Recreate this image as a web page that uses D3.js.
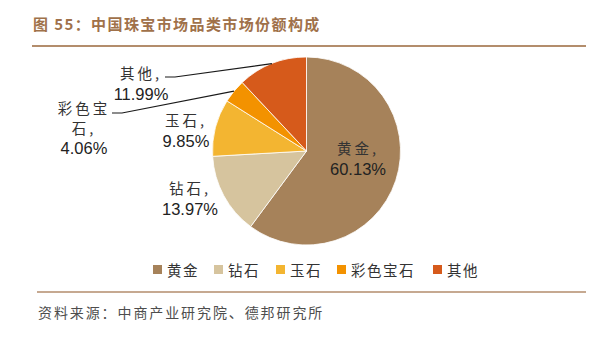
<!DOCTYPE html>
<html>
<head>
<meta charset="utf-8">
<script src="https://cdn.jsdelivr.net/npm/d3@7/dist/d3.min.js"></script>
<style>
  html, body { margin: 0; padding: 0; background: #fff; }
  svg { display: block; }
</style>
</head>
<body>
<svg id="chart" width="614" height="344"></svg>
<script>
// Market share of China's jewellery categories (%)
const categories = ["黄金", "钻石", "玉石", "彩色宝石", "其他"];
const shares = [60.13, 13.97, 9.85, 4.06, 11.99];
const colors = ["#a6825a", "#d6c49e", "#f3b531", "#f39200", "#d65a1b"];

const titleText = "图 55：中国珠宝市场品类市场份额构成";
const sourceText = "资料来源：中商产业研究院、德邦研究所";

const cjk = "'Noto Sans CJK SC', 'Noto Sans', sans-serif";
const latin = "'Liberation Sans', Arial, sans-serif";

const svg = d3.select("#chart");

// Title and rules
svg.append("text")
  .attr("x", 33).attr("y", 30)
  .attr("font-family", cjk).attr("font-size", 15).attr("font-weight", "bold")
  .attr("letter-spacing", 1.4)
  .attr("fill", "#a0714a")
  .text(titleText);

svg.append("line").attr("x1", 32).attr("x2", 586).attr("y1", 46).attr("y2", 46)
  .attr("stroke", "#b38d6c").attr("stroke-width", 2);
svg.append("line").attr("x1", 37).attr("x2", 586).attr("y1", 292).attr("y2", 292)
  .attr("stroke", "#b38d6c").attr("stroke-width", 1.5);

svg.append("text")
  .attr("x", 38).attr("y", 318)
  .attr("font-family", cjk).attr("font-size", 14).attr("letter-spacing", 1.9)
  .attr("fill", "#4d4d4d")
  .text(sourceText);

// Pie
const cx = 306.5, cy = 151, r = 94;
const pie = d3.pie().sort(null).value(d => d)(shares);
const arc = d3.arc().innerRadius(0).outerRadius(r);
const g = svg.append("g").attr("transform", `translate(${cx},${cy})`);

g.selectAll("path.slice").data(pie).enter().append("path")
  .attr("class", "slice")
  .attr("d", arc)
  .attr("fill", (d, i) => colors[i])
  .attr("stroke", "#fff").attr("stroke-width", 0.8);

// Data labels: category line(s), value line, centre x, first baseline
const labelSpec = [
  { lines: ["黄金,"], x: 358, y: 154 },
  { lines: ["钻石,"], x: 190, y: 194 },
  { lines: ["玉石,"], x: 186, y: 126 },
  { lines: ["彩色宝", "石,"], x: 84, y: 114, leader: [112, 113] },
  { lines: ["其他,"], x: 141, y: 79, leader: [165, 77] }
];

labelSpec.forEach((s, i) => {
  const t = svg.append("text").attr("text-anchor", "middle");
  let y = s.y;
  s.lines.forEach(l => {
    t.append("tspan").attr("x", s.x).attr("y", y)
      .attr("font-family", cjk).attr("font-size", 14.5).attr("letter-spacing", 3)
      .attr("fill", "#333").text(l);
    y += 19.5;
  });
  t.append("tspan").attr("x", s.x).attr("y", y + 1)
    .attr("font-family", latin).attr("font-size", 16.5)
    .attr("fill", "#222").text(shares[i].toFixed(2) + "%");

  if (s.leader) {
    const d = pie[i];
    const mid = (d.startAngle + d.endAngle) / 2;
    const px = cx + r * Math.sin(mid), py = cy - r * Math.cos(mid);
    svg.append("polyline")
      .attr("points", [[s.leader[0], s.leader[1]], [s.leader[0] + 10, s.leader[1]], [px, py]].map(p => p.join(",")).join(" "))
      .attr("fill", "none").attr("stroke", "#1a1a1a").attr("stroke-width", 1.2);
  }
});

// Legend
const legendX = [153, 214, 276, 337, 433];
const lg = svg.append("g");
categories.forEach((c, i) => {
  lg.append("rect").attr("x", legendX[i]).attr("y", 265).attr("width", 9).attr("height", 9)
    .attr("fill", colors[i]);
  lg.append("text").attr("x", legendX[i] + 14).attr("y", 275.5)
    .attr("font-family", cjk).attr("font-size", 14.5).attr("letter-spacing", 1.5)
    .attr("fill", "#333").text(c);
});
</script>
</body>
</html>
